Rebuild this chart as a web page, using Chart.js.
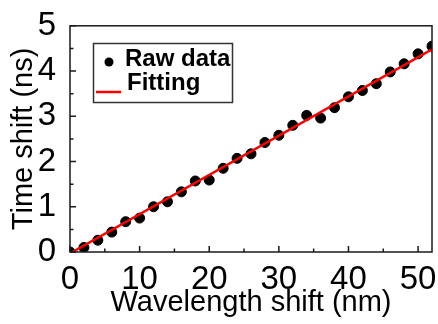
<!DOCTYPE html>
<html>
<head>
<meta charset="utf-8">
<script src="https://cdn.jsdelivr.net/npm/chart.js@4/dist/chart.umd.min.js"></script>
<style>
  html, body { margin: 0; padding: 0; background: #ffffff; }
  #wrap { width: 438px; height: 324px; position: relative; }
</style>
</head>
<body>
<div id="wrap"><canvas id="shiftChart" width="438" height="324"></canvas></div>
<script>
// raw measurement: wavelength shift (nm) vs time shift (ns)
const wavelength = [0, 2, 4, 6, 8, 10, 12, 14, 16, 18, 20, 22, 24, 26, 28, 30, 32, 34, 36, 38, 40, 42, 44, 46, 48, 50, 52];
const timeShift = [0, 0.1, 0.26, 0.44, 0.67, 0.75, 1.0, 1.11, 1.33, 1.57, 1.59, 1.85, 2.07, 2.17, 2.42, 2.58, 2.8, 3.02, 2.96, 3.19, 3.43, 3.57, 3.72, 3.98, 4.16, 4.38, 4.55];

// linear fit end points
const fitX = [0, 52];
const fitY = [-0.03, 4.48];

const xTicks = [0, 10, 20, 30, 40, 50];
const yTicks = [0, 1, 2, 3, 4, 5];
const xMinorTicks = [5, 15, 25, 35, 45];
const yMinorTicks = [0.5, 1.5, 2.5, 3.5, 4.5];

const legendLabels = ['Raw data', 'Fitting'];

const fontFamily = "'Liberation Sans', Arial, sans-serif";

const rawPoints = wavelength.map((x, i) => ({ x: x, y: timeShift[i] }));
const fitPoints = fitX.map((x, i) => ({ x: x, y: fitY[i] }));

// frame + inward ticks, like the origin-style plot
const framePlugin = {
    id: 'frameTicks',
    afterDraw(chart) {
        const { ctx, chartArea, scales } = chart;
        const xs = scales.x;
        const ys = scales.y;
        ctx.save();
        ctx.strokeStyle = '#1a1a1a';
        ctx.lineWidth = 1.5;
        ctx.strokeRect(chartArea.left, chartArea.top, chartArea.right - chartArea.left, chartArea.bottom - chartArea.top);

        ctx.beginPath();
        xTicks.forEach(v => {
            const px = xs.getPixelForValue(v);
            ctx.moveTo(px, chartArea.bottom);
            ctx.lineTo(px, chartArea.bottom - 6);
        });
        xMinorTicks.forEach(v => {
            const px = xs.getPixelForValue(v);
            ctx.moveTo(px, chartArea.bottom);
            ctx.lineTo(px, chartArea.bottom - 3.5);
        });
        yTicks.forEach(v => {
            const py = ys.getPixelForValue(v);
            ctx.moveTo(chartArea.left, py);
            ctx.lineTo(chartArea.left + 6, py);
        });
        yMinorTicks.forEach(v => {
            const py = ys.getPixelForValue(v);
            ctx.moveTo(chartArea.left, py);
            ctx.lineTo(chartArea.left + 3.5, py);
        });
        ctx.stroke();
        ctx.restore();
    }
};

// boxed legend sitting inside the plot area
const legendPlugin = {
    id: 'boxLegend',
    afterDraw(chart) {
        const { ctx } = chart;
        ctx.save();
        ctx.strokeStyle = '#333333';
        ctx.lineWidth = 1.5;
        ctx.strokeRect(93.5, 43.5, 139, 59);

        ctx.fillStyle = '#000000';
        ctx.beginPath();
        ctx.arc(109, 62, 4.5, 0, Math.PI * 2);
        ctx.fill();

        ctx.strokeStyle = '#ff0000';
        ctx.lineWidth = 2.5;
        ctx.beginPath();
        ctx.moveTo(96, 92);
        ctx.lineTo(121, 92);
        ctx.stroke();

        ctx.fillStyle = '#000000';
        ctx.font = 'bold 24px ' + fontFamily;
        ctx.textBaseline = 'alphabetic';
        ctx.textAlign = 'left';
        ctx.fillText(legendLabels[0], 125, 66);
        ctx.fillText(legendLabels[1], 127, 90);
        ctx.restore();
    }
};

const ctx = document.getElementById('shiftChart');

new Chart(ctx, {
    type: 'scatter',
    data: {
        datasets: [
            {
                label: legendLabels[0],
                data: rawPoints,
                backgroundColor: '#000000',
                borderColor: '#000000',
                pointRadius: 5,
                pointHoverRadius: 5,
                order: 2,
            },
            {
                label: legendLabels[1],
                type: 'line',
                data: fitPoints,
                borderColor: '#ff0000',
                borderWidth: 2.5,
                pointRadius: 0,
                fill: false,
                order: 1,
            },
        ],
    },
    options: {
        responsive: false,
        animation: false,
        events: [],
        layout: {
            padding: { top: 22, right: 6, left: 0, bottom: 0 },
        },
        plugins: {
            legend: { display: false },
            tooltip: { enabled: false },
        },
        scales: {
            x: {
                type: 'linear',
                min: 0,
                max: 52,
                grid: { display: false },
                border: { display: false },
                afterBuildTicks: scale => {
                    scale.ticks = xTicks.map(v => ({ value: v }));
                },
                afterFit: scale => {
                    scale.height = 72;
                },
                ticks: {
                    color: '#000000',
                    padding: 0,
                    maxRotation: 0,
                    font: { family: fontFamily, size: 33 },
                },
                title: {
                    display: true,
                    text: 'Wavelength shift (nm)',
                    color: '#000000',
                    padding: { top: 0, bottom: 7 },
                    font: { family: fontFamily, size: 29, lineHeight: 1 },
                },
            },
            y: {
                type: 'linear',
                min: 0,
                max: 5,
                grid: { display: false },
                border: { display: false },
                afterBuildTicks: scale => {
                    scale.ticks = yTicks.map(v => ({ value: v }));
                },
                afterFit: scale => {
                    scale.width = 70;
                },
                ticks: {
                    color: '#000000',
                    padding: 6,
                    font: { family: fontFamily, size: 33 },
                },
                title: {
                    display: true,
                    text: 'Time shift (ns)',
                    color: '#000000',
                    padding: { top: 9.5, bottom: 0 },
                    font: { family: fontFamily, size: 29, lineHeight: 1 },
                },
            },
        },
    },
    plugins: [framePlugin, legendPlugin],
});
</script>
</body>
</html>
